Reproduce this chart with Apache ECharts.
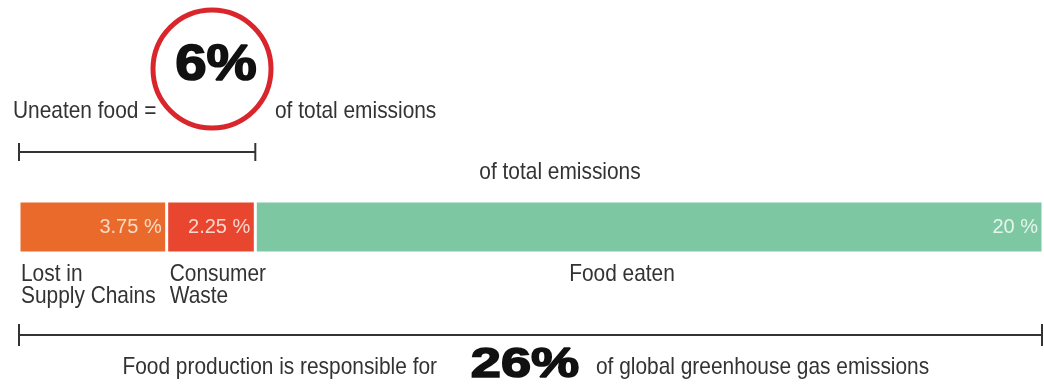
<!DOCTYPE html>
<html>
<head>
<meta charset="utf-8">
<style>
  html, body { margin: 0; padding: 0; background: #ffffff; }
  #chart { width: 1044px; height: 385px; }
</style>
<script src="https://cdn.jsdelivr.net/npm/echarts@6/dist/echarts.min.js"></script>
</head>
<body>
<div id="chart"></div>
<script>
// Shares of global greenhouse gas emissions from food production (%)
const segmentNames = ['Lost in\nSupply Chains', 'Consumer\nWaste', 'Food eaten'];
const segmentValues = [3.75, 2.25, 20];
const segmentColors = ['#e96a2b', '#e8462f', '#7dc7a2'];
const segmentLabelColors = ['#fbd9c4', '#fbd6cd', '#e6f5ec'];
const uneatenShare = 6;
const totalShare = 26;

const FONT = '"Liberation Sans", Arial, sans-serif';
const INK = '#333333';
const NARROW = 0.87;   // condensed look for running text

const chart = echarts.init(document.getElementById('chart'), null, { renderer: 'canvas' });

const series = segmentValues.map((v, i) => ({
  name: segmentNames[i],
  type: 'bar',
  stack: 'total',
  barWidth: '100%',
  data: [v],
  itemStyle: { color: segmentColors[i], borderColor: '#ffffff', borderWidth: 1.5 },
  label: {
    show: true,
    position: 'insideRight',
    distance: 5,
    formatter: p => p.value + ' %',
    color: segmentLabelColors[i],
    fontFamily: FONT,
    fontSize: 20
  },
  silent: true
}));

chart.setOption({
  animation: false,
  grid: { left: 19, right: 1, top: 201, height: 52 },
  xAxis: { type: 'value', min: 0, max: totalShare, show: false },
  yAxis: { type: 'category', data: ['share'], show: false },
  series: series
});

function px(v) { return chart.convertToPixel({ xAxisIndex: 0 }, v); }

// bracket: horizontal rule with end ticks
function bracket(x1, x2, y, tick) {
  const st = { stroke: INK, lineWidth: 2 };
  return [
    { type: 'line', shape: { x1: x1, y1: y, x2: x2, y2: y }, style: st, silent: true },
    { type: 'line', shape: { x1: x1, y1: y - tick, x2: x1, y2: y + tick }, style: st, silent: true },
    { type: 'line', shape: { x1: x2, y1: y - tick, x2: x2, y2: y + tick }, style: st, silent: true }
  ];
}

function text(str, x, y, opts, scaleX) {
  return {
    type: 'text', x: x, y: y, silent: true,
    scaleX: scaleX == null ? NARROW : scaleX,
    style: Object.assign({
      text: str, fill: INK, font: '24px ' + FONT,
      textAlign: 'left', textVerticalAlign: 'middle'
    }, opts || {})
  };
}

// heavy display figures: bold face thickened with a same-colour outline
function heavy(str, x, y, size, scaleX) {
  return text(str, x, y, {
    font: 'bold ' + size + 'px ' + FONT, fill: '#111111',
    stroke: '#111111', lineWidth: 1.6, textAlign: 'center'
  }, scaleX);
}

const x0 = px(0), xUneaten = px(uneatenShare), xTotal = px(totalShare);
let cum = 0;
const starts = segmentValues.map(v => { const s = cum; cum += v; return s; });
const xs = starts.map(px);

const elements = [];
// top annotation: uneaten food share in a red ring
elements.push(text('Uneaten food =', 13, 111));
elements.push({
  type: 'circle', shape: { cx: 212, cy: 69, r: 59 },
  style: { fill: 'none', stroke: '#d9262c', lineWidth: 5 }, silent: true
});
elements.push(heavy(uneatenShare + '%', 216, 66, 50, 1.13));
elements.push(text('of total emissions', 275, 111));
elements.push(...bracket(x0, xUneaten, 152, 9));
elements.push(text('of total emissions', 560, 172, { textAlign: 'center' }));

// segment captions under the bar
elements.push(text(segmentNames[0], xs[0] + 2, 263, { textVerticalAlign: 'top', lineHeight: 22 }));
elements.push(text(segmentNames[1], xs[1] + 3, 263, { textVerticalAlign: 'top', lineHeight: 22 }));
elements.push(text(segmentNames[2], 622, 262, { textVerticalAlign: 'top', textAlign: 'center' }));

// bottom annotation: full extent of food production
elements.push(...bracket(x0, xTotal - 1, 335, 11));
elements.push(text('Food production is responsible for', 437, 367, { textAlign: 'right' }));
elements.push(heavy(totalShare + '%', 525, 365, 43, 1.26));
elements.push(text('of global greenhouse gas emissions', 596, 367));

chart.setOption({ graphic: { elements: elements } });
</script>
</body>
</html>
